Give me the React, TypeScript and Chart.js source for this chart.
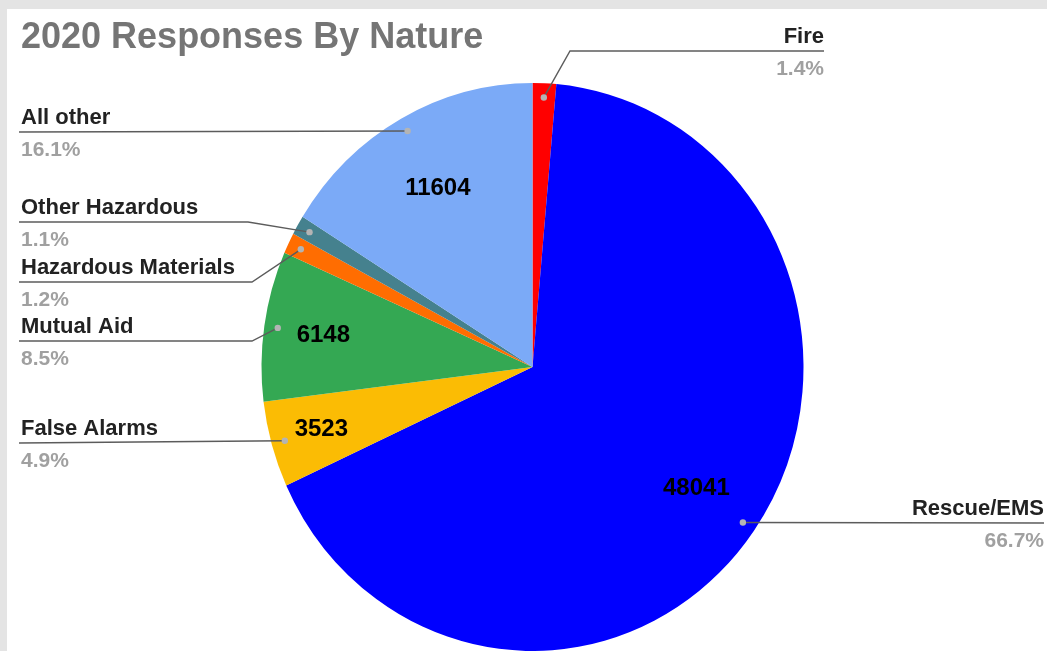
import { useEffect, useRef } from 'react';
import { Chart, registerables } from 'chart.js';

Chart.register(...registerables);

const title = '2020 Responses By Nature';
const categories = ['Fire', 'Rescue/EMS', 'False Alarms', 'Mutual Aid', 'Hazardous Materials', 'Other Hazardous', 'All other'];
const values = [1010, 48041, 3523, 6148, 860, 790, 11604];
const colors = ['#ff0000', '#0000ff', '#fbbc04', '#34a853', '#ff6d01', '#45818e', '#7baaf7'];

// annotation layout (label placement), not data
const labelLayout = [
  { side: 'right', lineY: 51, endX: 824, elbowX: 570 },
  { side: 'right', lineY: 523, endX: 1044, elbowX: null },
  { side: 'left', lineY: 443, endX: 19, elbowX: null },
  { side: 'left', lineY: 341, endX: 19, elbowX: 252 },
  { side: 'left', lineY: 282, endX: 19, elbowX: 252 },
  { side: 'left', lineY: 222, endX: 19, elbowX: 248 },
  { side: 'left', lineY: 132, endX: 19, elbowX: null },
];
const valueLabelRadius = [0, 0.74, 0.81, 0.78, 0, 0, 0.72];
const ELLIPSE_Y = 1.048;
const FONT = '"Liberation Sans", Arial, sans-serif';

const customPlugin = {
  id: 'customPie',
  beforeDraw(chart: any) {
    const ctx = chart.ctx;
    ctx.save();
    ctx.fillStyle = '#e4e4e4';
    ctx.fillRect(0, 0, chart.width, chart.height);
    ctx.fillStyle = '#ffffff';
    ctx.fillRect(7, 9, chart.width - 7, chart.height - 9);
    ctx.fillStyle = '#757575';
    ctx.font = `bold 36px ${FONT}`;
    ctx.textAlign = 'left';
    ctx.textBaseline = 'alphabetic';
    ctx.fillText(title, 21, 48);
    ctx.restore();
  },
  beforeDatasetsDraw(chart: any) {
    const ctx = chart.ctx;
    const arc = chart.getDatasetMeta(0).data[0];
    ctx.save();
    ctx.translate(arc.x, arc.y);
    ctx.scale(1, ELLIPSE_Y);
    ctx.translate(-arc.x, -arc.y);
  },
  afterDatasetsDraw(chart: any) {
    const ctx = chart.ctx;
    ctx.restore();
    const meta = chart.getDatasetMeta(0);
    const total = values.reduce((a, b) => a + b, 0);
    ctx.save();
    meta.data.forEach((el: any, i: number) => {
      const p = el.getProps(['x', 'y', 'startAngle', 'endAngle', 'outerRadius'], true);
      const mid = (p.startAngle + p.endAngle) / 2;
      const cx = Math.cos(mid);
      const cy = Math.sin(mid);
      const dot = { x: p.x + cx * p.outerRadius * 0.95, y: p.y + cy * p.outerRadius * 0.95 * ELLIPSE_Y };
      const L = labelLayout[i];
      ctx.strokeStyle = '#5c5c5c';
      ctx.lineWidth = 1.4;
      ctx.beginPath();
      if (L.side === 'left') {
        ctx.moveTo(L.endX, L.lineY);
        if (L.elbowX !== null) ctx.lineTo(L.elbowX, L.lineY);
        ctx.lineTo(dot.x, dot.y);
      } else {
        ctx.moveTo(dot.x, dot.y);
        if (L.elbowX !== null) ctx.lineTo(L.elbowX, L.lineY);
        ctx.lineTo(L.endX, L.lineY);
      }
      ctx.stroke();
      ctx.fillStyle = '#b4b4b4';
      ctx.beginPath();
      ctx.arc(dot.x, dot.y, 3.2, 0, Math.PI * 2);
      ctx.fill();

      const share = values[i] / total;
      const tx = L.side === 'left' ? L.endX + 2 : L.endX;
      ctx.textAlign = L.side === 'left' ? 'left' : 'right';
      ctx.textBaseline = 'alphabetic';
      ctx.font = `bold 22px ${FONT}`;
      ctx.fillStyle = '#222222';
      ctx.fillText(categories[i], tx, L.lineY - 8);
      ctx.font = `bold 21px ${FONT}`;
      ctx.fillStyle = '#a0a0a0';
      ctx.fillText((share * 100).toFixed(1) + '%', tx, L.lineY + 24);

      if (valueLabelRadius[i] > 0) {
        const f = valueLabelRadius[i];
        const vx = p.x + cx * p.outerRadius * f;
        const vy = p.y + cy * p.outerRadius * f * ELLIPSE_Y;
        ctx.font = `bold 24px ${FONT}`;
        ctx.fillStyle = '#000000';
        ctx.textAlign = 'center';
        ctx.textBaseline = 'middle';
        ctx.fillText(String(values[i]), vx, vy);
      }
    });
    ctx.restore();
  },
};

export default function App() {
  const ref = useRef<HTMLCanvasElement | null>(null);
  useEffect(() => {
    if (!ref.current) return;
    const chart = new Chart(ref.current, {
      type: 'pie',
      data: {
        labels: categories,
        datasets: [
          {
            data: values,
            backgroundColor: colors,
            borderWidth: 0,
            clip: false as any,
          } as any,
        ],
      },
      options: {
        responsive: false,
        animation: false,
        layout: { padding: { left: 261.5, right: 243.5, top: 96, bottom: 13 } },
        plugins: {
          legend: { display: false },
          tooltip: { enabled: false },
          title: { display: false },
        },
      },
      plugins: [customPlugin],
    });
    return () => chart.destroy();
  }, []);
  return (
    <div style={{ position: 'fixed', left: 0, top: 0, width: 1047, height: 651, overflow: 'hidden' }}>
      <canvas ref={ref} width={1047} height={651} style={{ display: 'block', width: 1047, height: 651 }} />
    </div>
  );
}
